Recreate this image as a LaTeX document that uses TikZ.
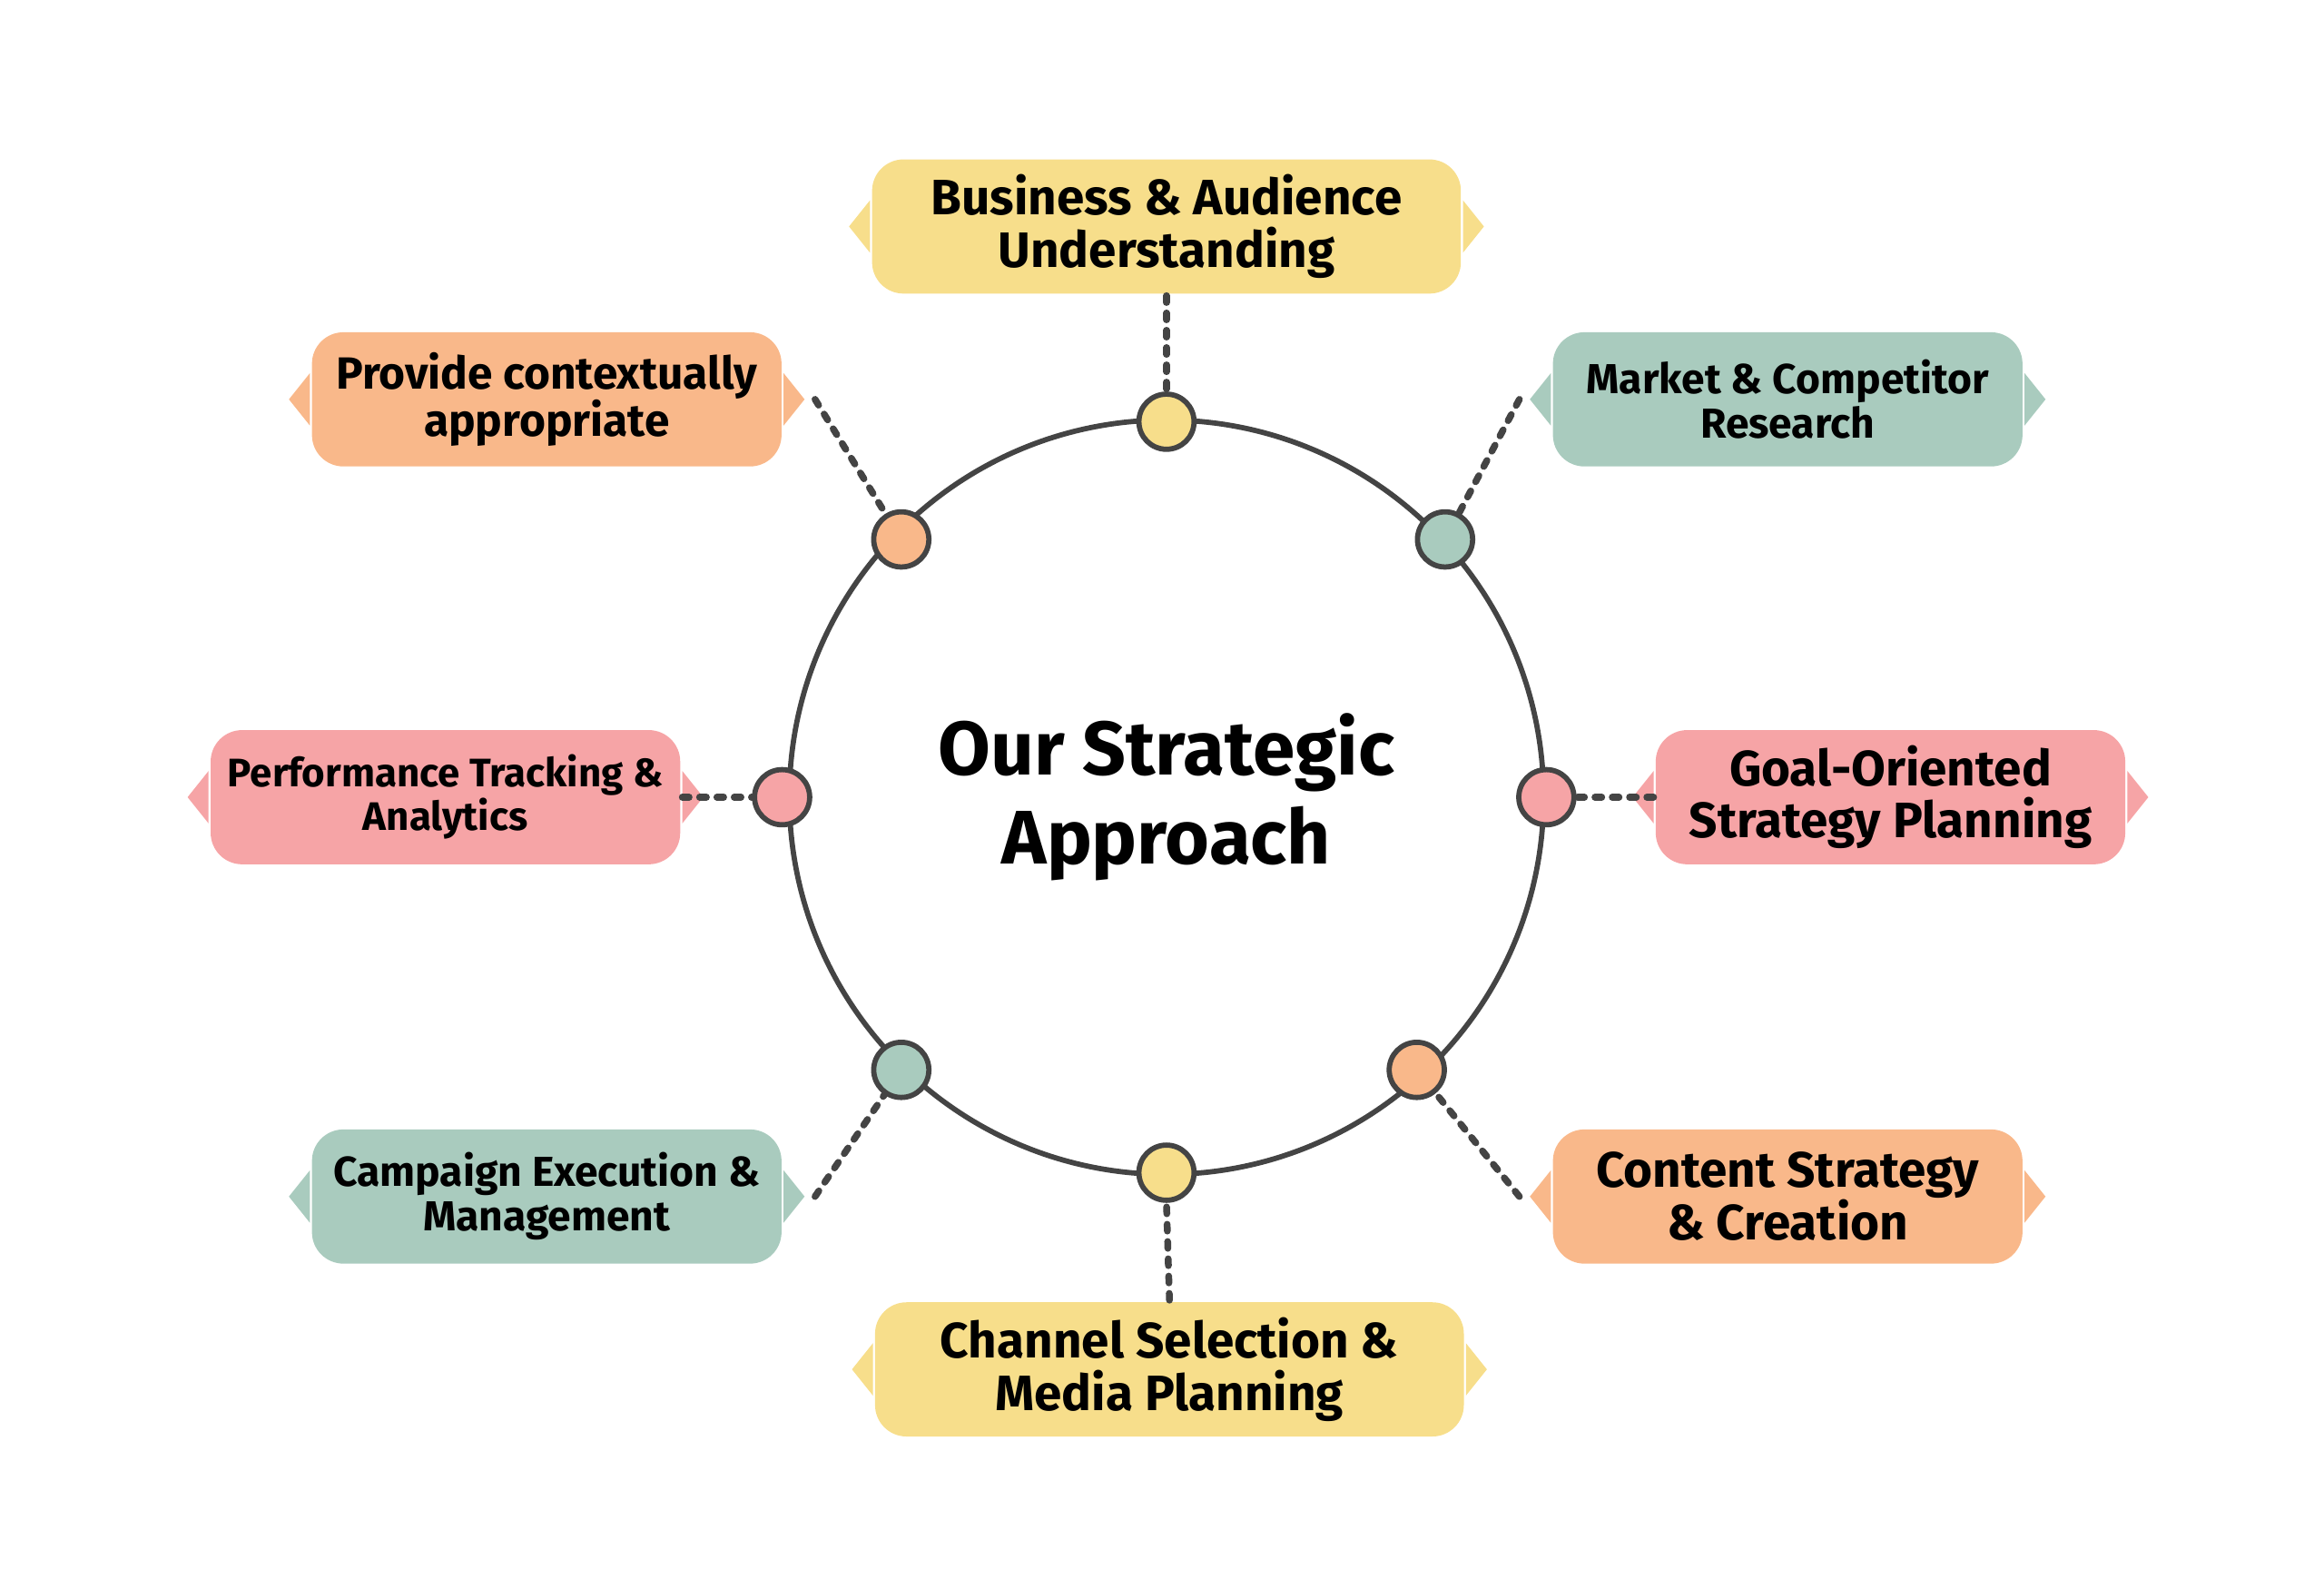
\documentclass[tikz,border=0pt]{standalone}
\usepackage{fontspec}
\setmainfont{Fira Sans}
\usepackage{xcolor}
\definecolor{sunny}{HTML}{F7DE8B}
\definecolor{sage}{HTML}{A9CBBE}
\definecolor{peach}{HTML}{F9B88A}
\definecolor{rose}{HTML}{F6A4A6}
\definecolor{ink}{HTML}{444444}
\begin{document}
\begin{tikzpicture}[x=0.01cm,y=-0.01cm,thick,
  tag/.style={rounded corners=6pt,minimum width=3.15cm,minimum height=0.9cm,align=center,inner sep=1pt,font=\bfseries\fontsize{8}{8.5}\selectfont},
  big tag/.style={tag,minimum width=3.95cm,font=\bfseries\fontsize{9.5}{10}\selectfont},
  dot/.style={circle,draw=ink,line width=1pt,minimum size=0.37cm,inner sep=0pt},
  link/.style={draw=ink,line width=1.3pt,dotted,line cap=round}]
  \useasboundingbox (0,0) rectangle (1560,1066);
  \node[circle,draw=ink,line width=1pt,minimum size=5.06cm,font=\bfseries\fontsize{14.5}{17}\selectfont,align=center] (hub) at (783,535) {Our Strategic\\Approach};

  \node[dot,fill=sunny] (d1) at (783,283) {};
  \node[dot,fill=sage]  (d2) at (970,362) {};
  \node[dot,fill=rose]  (d3) at (1038,535) {};
  \node[dot,fill=peach] (d4) at (951,718) {};
  \node[dot,fill=sunny] (d5) at (783,787) {};
  \node[dot,fill=sage]  (d6) at (605,718) {};
  \node[dot,fill=rose]  (d7) at (525,535) {};
  \node[dot,fill=peach] (d8) at (605,362) {};

  \node[big tag,fill=sunny] (b1) at (783,152) {Business \& Audience\\Understanding};
  \node[tag,fill=sage] (b2) at (1200,268) {Market \& Competitor\\Research};
  \node[tag,fill=rose,font=\bfseries\fontsize{9.5}{10}\selectfont] (b3) at (1269,535) {Goal-Oriented\\Strategy Planning};
  \node[tag,fill=peach,font=\bfseries\fontsize{9.5}{10}\selectfont] (b4) at (1200,803) {Content Strategy\\\& Creation};
  \node[big tag,fill=sunny] (b5) at (785,919) {Channel Selection \&\\Media Planning};
  \node[tag,fill=sage] (b6) at (367,803) {Campaign Execution \&\\Management};
  \node[tag,fill=rose,font=\bfseries\fontsize{7.6}{8.3}\selectfont] (b7) at (299,535) {Performance Tracking \&\\Analytics};
  \node[tag,fill=peach,font=\bfseries\fontsize{8.6}{9}\selectfont] (b8) at (367,268) {Provide contextually\\appropriate};

  % side notches
  \foreach \b/\c in {b1/sunny,b2/sage,b3/rose,b4/peach,b5/sunny,b6/sage,b7/rose,b8/peach}{
    \fill[\c] ([yshift=5pt]\b.west) -- ([xshift=-4pt]\b.west) -- ([yshift=-5pt]\b.west) -- cycle;
    \fill[\c] ([yshift=5pt]\b.east) -- ([xshift=4pt]\b.east) -- ([yshift=-5pt]\b.east) -- cycle;
  }

  \draw[link] (b1.south) -- (d1.north);
  \draw[link] ([xshift=-6pt]b2.west) -- (d2);
  \draw[link] (b3.west) -- (d3.east);
  \draw[link] ([xshift=-6pt]b4.west) -- (d4);
  \draw[link] (b5.north) -- (d5.south);
  \draw[link] ([xshift=6pt]b6.east) -- (d6);
  \draw[link] (b7.east) -- (d7.west);
  \draw[link] ([xshift=6pt]b8.east) -- (d8);
\end{tikzpicture}
\end{document}
